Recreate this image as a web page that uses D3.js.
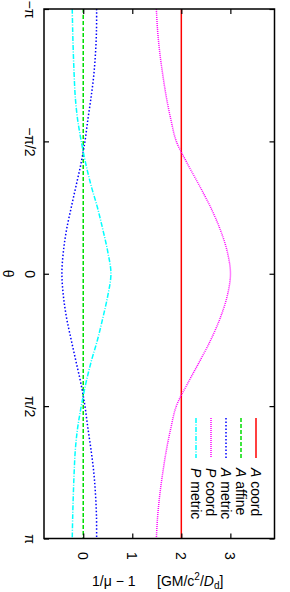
<!DOCTYPE html>
<html>
<head>
<meta charset="utf-8">
<script src="https://cdn.jsdelivr.net/npm/d3@7"></script>
<style>
body { margin: 0; background: #fff; }
svg { display: block; font-family: "Liberation Sans", Arial, sans-serif; }
</style>
</head>
<body>
<svg id="chart" width="290" height="592"></svg>
<script>
// theta sample points, in units of pi
var theta = [-1, -0.9167, -0.8333, -0.75, -0.6667, -0.5833, -0.5, -0.4167, -0.3333, -0.25, -0.1667, -0.0833, 0,
             0.0833, 0.1667, 0.25, 0.3333, 0.4167, 0.5, 0.5833, 0.6667, 0.75, 0.8333, 0.9167, 1];

var aCoord = [2, 2, 2, 2, 2, 2, 2, 2, 2, 2, 2, 2, 2, 2, 2, 2, 2, 2, 2, 2, 2, 2, 2, 2, 2];
var aAffine = [0, 0, 0, 0, 0, 0, 0, 0, 0, 0, 0, 0, 0, 0, 0, 0, 0, 0, 0, 0, 0, 0, 0, 0, 0];
var aMetric = [0.273, 0.27, 0.25, 0.215, 0.16, 0.095, 0.035, -0.045, -0.145, -0.245, -0.34, -0.405, -0.435,
               -0.405, -0.34, -0.245, -0.145, -0.045, 0.035, 0.095, 0.16, 0.215, 0.25, 0.27, 0.273];
var pCoord = [1.491, 1.517, 1.562, 1.623, 1.695, 1.786, 1.898, 2.122, 2.367, 2.6, 2.794, 2.937, 3.002,
              2.937, 2.794, 2.6, 2.367, 2.122, 1.898, 1.786, 1.695, 1.623, 1.562, 1.517, 1.491];
var pMetric = [-0.224, -0.215, -0.202, -0.185, -0.162, -0.115, -0.04, 0.05, 0.16, 0.29, 0.4, 0.5, 0.565,
               0.5, 0.4, 0.29, 0.16, 0.05, -0.04, -0.115, -0.162, -0.185, -0.202, -0.215, -0.224];

var thetaTicks = [-1, -0.5, 0, 0.5, 1];
var thetaLabels = ["\u2212\u03c0", "\u2212\u03c0/2", "0", "\u03c0/2", "\u03c0"];
var valueTicks = [0, 1, 2, 3];

var series = [
    { sym: "A", word: " coord",  values: aCoord,  color: "#ff0000", dash: null },
    { sym: "A", word: " affine", values: aAffine, color: "#00dd00", dash: "4,2" },
    { sym: "A", word: " metric", values: aMetric, color: "#0000ff", dash: "1.5,2" },
    { sym: "P", word: " coord",  values: pCoord,  color: "#ff00ff", dash: "1,1" },
    { sym: "P", word: " metric", values: pMetric, color: "#00ffff", dash: "5,1.5,1,1.5" }
];

var plotLeft = 44, plotRight = 274.5, plotTop = 9, plotBottom = 538.5;

var svg = d3.select("#chart");

var x = d3.scaleLinear().domain([-0.8, 3.9]).range([plotLeft, plotRight]);
var y = d3.scaleLinear().domain([-1, 1]).range([plotTop, plotBottom]);

// curves
var line = d3.line()
    .x(function(d) { return x(d.v); })
    .y(function(d) { return y(d.t); })
    .curve(d3.curveCatmullRom);

series.forEach(function(s) {
    var pts = theta.map(function(t, i) { return { t: t, v: s.values[i] }; });
    svg.append("path")
        .datum(pts)
        .attr("d", line)
        .attr("fill", "none")
        .attr("stroke", s.color)
        .attr("stroke-width", 1.5)
        .attr("stroke-dasharray", s.dash);
});

// axes (ticks inward on all sides)
function styleAxis(g) {
    g.select(".domain").remove();
    g.selectAll("line").attr("stroke", "#000").attr("stroke-width", 1.2);
    g.attr("font-family", null).attr("font-size", 14);
}

var yAxisG = svg.append("g")
    .attr("transform", "translate(" + plotLeft + ",0)")
    .call(d3.axisLeft(y).tickValues(thetaTicks).tickSize(-5)
        .tickFormat(function(d, i) { return thetaLabels[i]; }))
    .call(styleAxis);
yAxisG.selectAll("text")
    .attr("x", null).attr("dy", null)
    .attr("fill", "#000")
    .attr("text-anchor", "middle")
    .attr("transform", "translate(-19,0) rotate(90)");

svg.append("g")
    .attr("transform", "translate(" + plotRight + ",0)")
    .call(d3.axisRight(y).tickValues(thetaTicks).tickSize(-5).tickFormat(""))
    .call(styleAxis);

var xAxisG = svg.append("g")
    .attr("transform", "translate(0," + plotBottom + ")")
    .call(d3.axisBottom(x).tickValues(valueTicks).tickSize(-5).tickFormat(d3.format("d")))
    .call(styleAxis);
xAxisG.selectAll("text")
    .attr("y", null).attr("dy", null)
    .attr("fill", "#000")
    .attr("text-anchor", "start")
    .attr("transform", "translate(-5.5,13.5) rotate(90)");

svg.append("g")
    .attr("transform", "translate(0," + plotTop + ")")
    .call(d3.axisTop(x).tickValues(valueTicks).tickSize(-5).tickFormat(""))
    .call(styleAxis);

// frame
svg.append("rect")
    .attr("x", plotLeft).attr("y", plotTop)
    .attr("width", plotRight - plotLeft).attr("height", plotBottom - plotTop)
    .attr("fill", "none").attr("stroke", "#000").attr("stroke-width", 1.5);

// axis titles
svg.append("text")
    .attr("font-size", 14)
    .attr("text-anchor", "middle")
    .attr("transform", "translate(3," + y(0) + ") rotate(90)")
    .text("\u03b8");

var xt = svg.append("text").attr("font-size", 14).attr("y", 586);
xt.append("tspan").attr("x", 92).text("1/\u03bc \u2212 1");
xt.append("tspan").attr("x", 157).text("[GM/c");
xt.append("tspan").attr("font-size", 10).attr("dy", -6).text("2");
xt.append("tspan").attr("dy", 6).text("/");
xt.append("tspan").attr("font-style", "italic").text("D");
xt.append("tspan").attr("font-size", 10).attr("dy", 3).text("d");
xt.append("tspan").attr("dy", -3).text("]");

// legend
var legend = svg.append("g");
series.forEach(function(s, i) {
    var lx = 256 - i * 15;
    legend.append("line")
        .attr("x1", lx).attr("x2", lx)
        .attr("y1", 418).attr("y2", 458)
        .attr("stroke", s.color)
        .attr("stroke-width", 1.5)
        .attr("stroke-dasharray", s.dash);
    var t = legend.append("text")
        .attr("font-size", 14)
        .attr("transform", "translate(" + (lx - 5) + ",468) rotate(90)");
    t.append("tspan").attr("font-style", "italic").text(s.sym);
    t.append("tspan").text(s.word);
});
</script>
</body>
</html>
